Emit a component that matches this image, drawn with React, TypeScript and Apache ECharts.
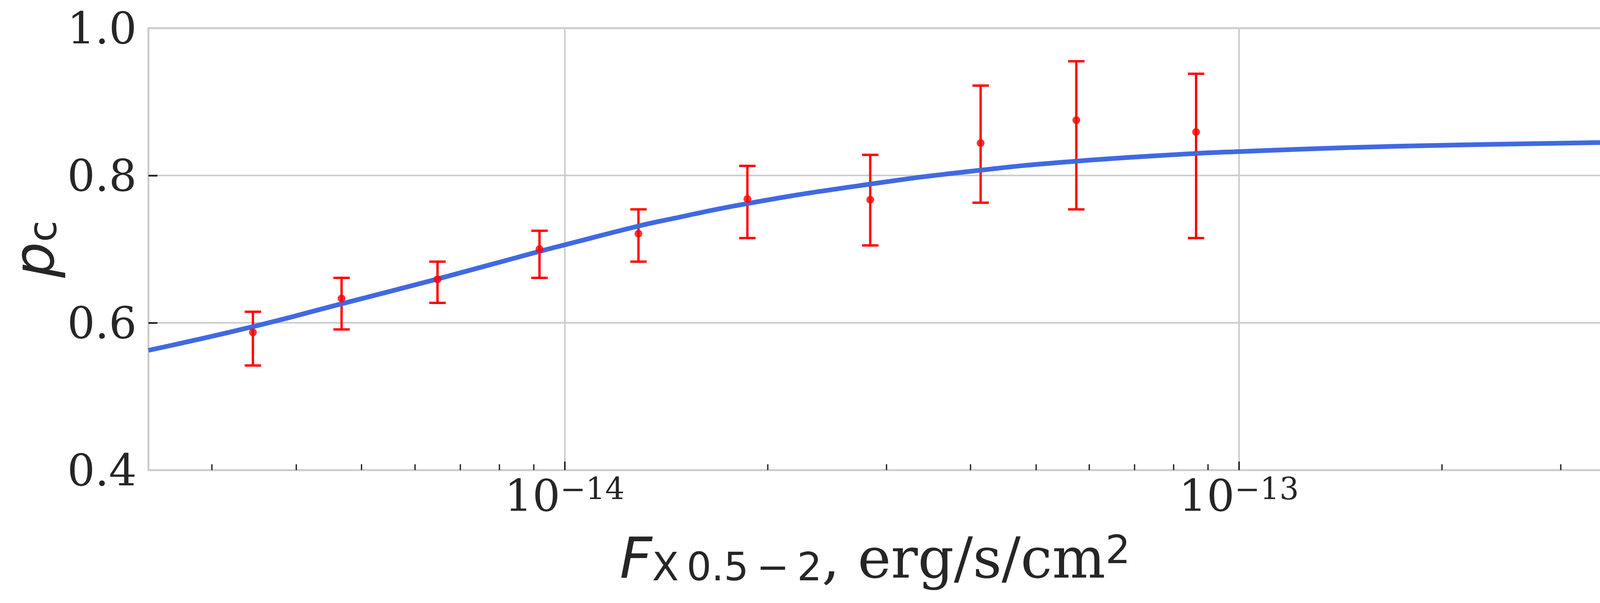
import React, { useEffect, useRef } from "react";
import * as echarts from "echarts";

// ---- data ----
const fluxes = [3.45e-15, 4.67e-15, 6.48e-15, 9.18e-15, 1.287e-14, 1.867e-14, 2.84e-14, 4.14e-14, 5.74e-14, 8.64e-14];
const pcValues = [0.587, 0.633, 0.659, 0.700, 0.721, 0.768, 0.767, 0.844, 0.875, 0.859];
const errLow = [0.542, 0.591, 0.627, 0.661, 0.683, 0.715, 0.705, 0.763, 0.754, 0.715];
const errHigh = [0.615, 0.661, 0.683, 0.725, 0.754, 0.813, 0.828, 0.922, 0.955, 0.938];

// fitted curve
const curveX = [2.415e-15, 3.45e-15, 4.67e-15, 6.48e-15, 9.18e-15, 1.0e-14, 1.287e-14, 1.405e-14, 1.867e-14, 2.84e-14, 4.14e-14, 5.74e-14, 8.64e-14, 1.0e-13, 1.449e-13, 2.218e-13, 3.45e-13];
const curveY = [0.5626, 0.5948, 0.6258, 0.6595, 0.6970, 0.7058, 0.7313, 0.7390, 0.7619, 0.7883, 0.8072, 0.8194, 0.8299, 0.8324, 0.8378, 0.8418, 0.8447];

const xMin = 2.415e-15;
const xMax = 3.45e-13;
const yMin = 0.4;
const yMax = 1.0;
const yInterval = 0.2;

const xMajorTicks = [1e-14, 1e-13];
const xMinorTicks = [3e-15, 4e-15, 5e-15, 6e-15, 7e-15, 8e-15, 9e-15, 2e-14, 3e-14, 4e-14, 5e-14, 6e-14, 7e-14, 8e-14, 9e-14, 2e-13, 3e-13];
const yTickValues = [0.6, 0.8];

const SERIF = "'DejaVu Serif', serif";
const SANS = "'DejaVu Sans', sans-serif";
const TEXT = "#262626";
const GRIDC = "#cccccc";

export default function App() {
  const ref = useRef<HTMLDivElement>(null);

  useEffect(() => {
    if (!ref.current) return;
    const chart = echarts.init(ref.current, null, { renderer: "svg" });

    const errData = fluxes.map((f, i) => [f, errLow[i], errHigh[i]]);
    const ptData = fluxes.map((f, i) => [f, pcValues[i]]);
    const curveData = curveX.map((x, i) => [x, curveY[i]]);

    const option: any = {
      animation: false,
      backgroundColor: "#ffffff",
      textStyle: { fontFamily: SERIF, color: TEXT },
      grid: {
        left: 380,
        top: 72,
        width: 3720,
        height: 1131,
        show: true,
        borderColor: GRIDC,
        borderWidth: 5,
        backgroundColor: "transparent",
        containLabel: false,
      },
      xAxis: [
        {
          type: "log",
          logBase: 10,
          min: xMin,
          max: xMax,
          position: "bottom",
          axisLine: { show: false },
          axisTick: {
            show: true,
            inside: true,
            length: 22,
            customValues: xMajorTicks,
            lineStyle: { color: TEXT, width: 4 },
          },
          minorTick: { show: false },
          splitLine: { show: true, lineStyle: { color: GRIDC, width: 4 } },
          axisLabel: {
            show: true,
            margin: 9,
            customValues: xMajorTicks,
            formatter: (v: number) => {
              const e = Math.round(Math.log10(v));
              return "{b|10}{s|" + (e < 0 ? "\u2212" : "") + Math.abs(e) + "}";
            },
            rich: {
              b: { fontFamily: SERIF, fontSize: 112, lineHeight: 112, color: TEXT },
              s: { fontFamily: SERIF, fontSize: 78, lineHeight: 56, verticalAlign: "top", color: TEXT },
            },
          },
          name: "{fi|F}{fs|X\u20090.5\u2009\u2212\u20092}{n|, erg/s/cm}{sup|2}",
          nameLocation: "middle",
          nameGap: 153,
          nameTextStyle: {
            fontSize: 144,
            color: TEXT,
            rich: {
              fi: { fontFamily: SANS, fontStyle: "italic", fontSize: 144, lineHeight: 144, color: TEXT },
              fs: { fontFamily: SANS, fontSize: 100, lineHeight: 70, verticalAlign: "bottom", color: TEXT },
              n: { fontFamily: SERIF, fontSize: 144, lineHeight: 144, color: TEXT },
              sup: { fontFamily: SANS, fontSize: 100, lineHeight: 64, verticalAlign: "top", color: TEXT },
            },
          },
        },
        {
          type: "log",
          logBase: 10,
          min: xMin,
          max: xMax,
          position: "bottom",
          axisLine: { show: false },
          axisLabel: { show: false },
          splitLine: { show: false },
          axisTick: {
            show: true,
            inside: true,
            length: 15,
            customValues: xMinorTicks,
            lineStyle: { color: TEXT, width: 3.4 },
          },
        },
      ],
      yAxis: {
        type: "value",
        min: yMin,
        max: yMax,
        interval: yInterval,
        axisLine: { show: false },
        axisTick: {
          show: true,
          inside: true,
          length: 23,
          customValues: yTickValues,
          lineStyle: { color: TEXT, width: 4.5 },
        },
        splitLine: { show: true, lineStyle: { color: GRIDC, width: 4 } },
        axisLabel: {
          margin: 30,
          fontFamily: SERIF,
          fontSize: 112,
          color: TEXT,
          formatter: (v: number) => v.toFixed(1),
        },
        name: "{pi|p}{ps|c}",
        nameLocation: "middle",
        nameGap: 221,
        nameTextStyle: {
          fontSize: 144,
          color: TEXT,
          rich: {
            pi: { fontFamily: SANS, fontStyle: "italic", fontSize: 144, lineHeight: 144, color: TEXT },
            ps: { fontFamily: SANS, fontSize: 100, lineHeight: 68, verticalAlign: "bottom", color: TEXT },
          },
        },
      },
      series: [
        {
          type: "custom",
          name: "errors",
          xAxisIndex: 0,
          yAxisIndex: 0,
          z: 1,
          encode: { x: 0, y: [1, 2] },
          data: errData,
          renderItem: (params: any, api: any) => {
            const x = api.value(0);
            const lo = api.coord([x, api.value(1)]);
            const hi = api.coord([x, api.value(2)]);
            const hw = 21;
            const st = { stroke: "#ff0000", lineWidth: 6, fill: "none" };
            return {
              type: "group",
              children: [
                { type: "line", shape: { x1: lo[0], y1: lo[1], x2: hi[0], y2: hi[1] }, style: st },
                { type: "line", shape: { x1: hi[0] - hw, y1: hi[1], x2: hi[0] + hw, y2: hi[1] }, style: st },
                { type: "line", shape: { x1: lo[0] - hw, y1: lo[1], x2: lo[0] + hw, y2: lo[1] }, style: st },
              ],
            };
          },
        },
        {
          type: "line",
          name: "fit",
          xAxisIndex: 0,
          yAxisIndex: 0,
          z: 2,
          data: curveData,
          smooth: 0.5,
          showSymbol: false,
          symbol: "none",
          lineStyle: { color: "#4169e1", width: 12 },
        },
        {
          type: "scatter",
          name: "points",
          xAxisIndex: 0,
          yAxisIndex: 0,
          z: 3,
          data: ptData,
          symbol: "circle",
          symbolSize: 20,
          itemStyle: { color: "#ff0000" },
        },
      ],
    };

    chart.setOption(option);
    return () => chart.dispose();
  }, []);

  return (
    <div
      ref={ref}
      style={{ position: "fixed", left: 0, top: 0, width: 4130, height: 1543, background: "#ffffff" }}
    />
  );
}
